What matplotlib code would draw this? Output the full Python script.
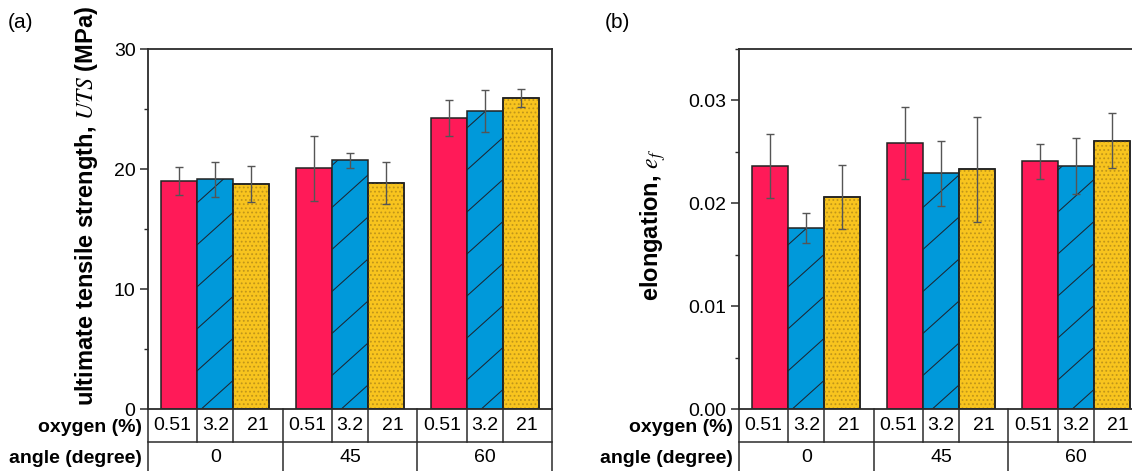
import numpy as np
import matplotlib
matplotlib.use('Agg')
import matplotlib.pyplot as plt
import matplotlib.transforms as mtransforms
from matplotlib.collections import LineCollection
from matplotlib.ticker import MultipleLocator, FormatStrFormatter

plt.rcParams['font.family'] = ['Liberation Sans', 'DejaVu Sans']
plt.rcParams['mathtext.fontset'] = 'stix'
plt.rcParams['hatch.linewidth'] = 0.8

# data: one list per oxygen level, values for angle 0, 45, 60
angles = ['0', '45', '60']
oxygen = ['0.51', '3.2', '21']

uts_051 = [19.0, 20.06, 24.28]
uts_32 = [19.14, 20.72, 24.83]
uts_21 = [18.78, 18.83, 25.94]
uts_051_err = [1.15, 2.7, 1.5]
uts_32_err = [1.45, 0.65, 1.75]
uts_21_err = [1.5, 1.75, 0.75]

el_051 = [0.0236, 0.0259, 0.0241]
el_32 = [0.0176, 0.0229, 0.0236]
el_21 = [0.0206, 0.0233, 0.0261]
el_051_err = [0.0031, 0.0035, 0.0017]
el_32_err = [0.0015, 0.0032, 0.0027]
el_21_err = [0.0031, 0.0051, 0.0027]

colors = ['#FF1A58', '#0099DA', '#F8C41E']
spine_c = '#2b2b2b'

W, H = 1132, 471
fig = plt.figure(figsize=(W / 100, H / 100), dpi=100)
ax1 = fig.add_axes([148 / W, 62 / H, 404 / W, 360 / H])
ax2 = fig.add_axes([739 / W, 62 / H, 404 / W, 360 / H])

x = np.arange(1, len(angles) + 1)
w = 0.8 / 3
offs = [-w, 0, w]


def diag_hatch(ax, patch):
    # sparse diagonal lines like the original pattern, clipped to the bar
    k = 0.9 * 404 / 360
    cs = np.arange(-2.0, 1.2, 42 / 360)
    segs = [[(0, c), (1, c + k)] for c in cs]
    lc = LineCollection(segs, colors='#1c2633', linewidths=0.75,
                        transform=ax.transAxes, zorder=2.2)
    ax.add_collection(lc, autolim=False)
    lc.set_clip_path(patch)


def panel(ax, series, errs, ymax, major, minor, fmt, ylabel, lab_x, lab_y):
    for i, (vals, err) in enumerate(zip(series, errs)):
        bars = ax.bar(x + offs[i], vals, w, color=colors[i], edgecolor='#222222',
                      linewidth=1.1, zorder=2)
        if i == 1:
            for b in bars:
                diag_hatch(ax, b)
        if i == 2:
            ax.bar(x + offs[i], vals, w, fill=False, edgecolor='#c0951a',
                   linewidth=0, hatch='....', zorder=2.1)
            ax.bar(x + offs[i], vals, w, fill=False, edgecolor='#222222',
                   linewidth=1.1, zorder=2.3)
        ax.errorbar(x + offs[i], vals, yerr=err, fmt='none', ecolor='#555555',
                    elinewidth=1.0, capsize=3, capthick=1.0, zorder=3)

    ax.set_xlim(0.5, 3.5)
    ax.set_ylim(0, ymax)
    ax.set_xticks([])
    ax.yaxis.set_major_locator(MultipleLocator(major))
    ax.yaxis.set_minor_locator(MultipleLocator(minor))
    if fmt:
        ax.yaxis.set_major_formatter(FormatStrFormatter(fmt))
    ax.tick_params(axis='y', which='major', direction='out', length=6, width=1.1,
                   labelsize=14, pad=3, color=spine_c)
    ax.tick_params(axis='y', which='minor', direction='out', length=3, width=1.0,
                   color=spine_c)
    for s in ax.spines.values():
        s.set_linewidth(1.3)
        s.set_color(spine_c)
    ax.set_ylabel(ylabel, fontsize=17, fontweight='bold')
    ax.yaxis.set_label_coords(lab_x, lab_y)

    # table under the axis
    tr = mtransforms.blended_transform_factory(ax.transData, ax.transAxes)
    r1 = -33 / 360
    r2 = -0.4
    lk = dict(color=spine_c, lw=1.1, transform=tr, clip_on=False)
    ax.plot([0.5, 3.5], [r1, r1], **lk)
    for xv in [0.5, 1.5, 2.5, 3.5]:
        ax.plot([xv, xv], [0, r2], **lk)
    for c in x:
        for xv in [c - w / 2, c + w / 2]:
            ax.plot([xv, xv], [0, r1], **lk)
        cell_x = [c - 0.25 - w / 4, c, c + 0.25 + w / 4]
        for cx, lab in zip(cell_x, oxygen):
            ax.text(cx, r1 / 2, lab, transform=tr, ha='center', va='center',
                    fontsize=14)
    for c, lab in zip(x, angles):
        ax.text(c, -49 / 360, lab, transform=tr, ha='center', va='center',
                fontsize=14)
    ax.text(-6 / 404, -0.052, 'oxygen (%)', transform=ax.transAxes, ha='right',
            va='center', fontsize=14, fontweight='bold')
    ax.text(-6 / 404, -0.137, 'angle (degree)', transform=ax.transAxes, ha='right',
            va='center', fontsize=14, fontweight='bold')


panel(ax1, [uts_051, uts_32, uts_21], [uts_051_err, uts_32_err, uts_21_err],
      30, 10, 5, None, r'ultimate tensile strength, $\mathit{UTS}$ (MPa)',
      -0.118, 0.565)
panel(ax2, [el_051, el_32, el_21], [el_051_err, el_32_err, el_21_err],
      0.035, 0.01, 0.005, '%.2f', r'elongation, $e_f$', -0.176, 0.51)

fig.text(8 / W, 1 - 23 / H, '(a)', fontsize=15, ha='left', va='center')
fig.text(605 / W, 1 - 23 / H, '(b)', fontsize=15, ha='left', va='center')

fig.savefig('out.png', dpi=100)
